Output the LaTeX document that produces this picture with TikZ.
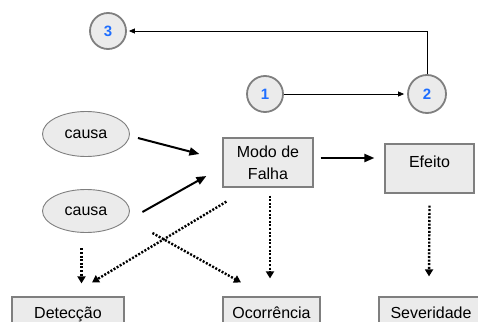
\documentclass[tikz,border=0pt]{standalone}
\usepackage{fontspec}
\setmainfont{Liberation Sans}
\usetikzlibrary{arrows.meta,shapes.geometric}
\definecolor{boxfill}{HTML}{EBEBEB}
\definecolor{edgegray}{HTML}{7F7F7F}
\definecolor{numblue}{HTML}{1E6EFF}
\tikzset{
  lbl/.style={font=\fontsize{16}{22}\selectfont},
  numcirc/.style={circle, fill=boxfill, draw=edgegray, line width=1.8pt,
    minimum size=36pt, inner sep=0pt,
    font=\fontsize{15}{18}\selectfont\bfseries, text=numblue},
  cause/.style={ellipse, fill=boxfill, draw=edgegray, line width=0.9pt,
    minimum width=87pt, minimum height=45pt, inner sep=0pt, lbl},
  stepbox/.style={rectangle, fill=boxfill, draw=edgegray, line width=1.2pt,
    align=center, lbl},
  metricbox/.style={stepbox, inner xsep=0pt, inner ysep=9pt,
    text height=12pt, text depth=4pt},
  thinarr/.style={line width=0.7pt, -{Triangle[length=6pt,width=5pt]}},
  boldarr/.style={line width=2pt, -{Triangle[length=10pt,width=8pt]}},
  dotarr/.style={line width=2.4pt, dash pattern=on 2pt off 1.6pt,
    -{Triangle[length=7pt,width=8pt]}},
}
\begin{document}
\begin{tikzpicture}[x=1pt,y=-1pt]
  \useasboundingbox (0,0) rectangle (478,321);
  \clip (0,0) rectangle (478,321);

  % numbered markers
  \node[numcirc] (n3) at (108,31) {3};
  \node[numcirc] (n1) at (265,94) {1};
  \node[numcirc, minimum size=38pt] (n2) at (427,94) {2};

  % causes
  \node[cause] (c1) at (86,134) {causa};
  \node[cause, minimum height=43pt] (c2) at (86,211) {causa};

  % failure mode and effect
  \node[stepbox, minimum width=90pt, minimum height=49pt] (modo) at (268,162.5) {Modo de\\Falha};
  \node[stepbox, minimum width=89pt, minimum height=49pt, text depth=13pt] (efeito) at (429.5,168.5) {Efeito};

  % rating boxes along the bottom
  \node[metricbox, minimum width=112pt] (det) at (68,314) {Detecção};
  \node[metricbox, minimum width=97pt] (oco) at (271.5,314) {Ocorrência};
  \node[metricbox, minimum width=104pt] (sev) at (431,314) {Severidade};

  % sequence of the numbered markers
  \draw[thinarr] (n1.east) -- ([xshift=-3pt]n2.west);
  \draw[thinarr] (n2.north) |- ([xshift=2pt]n3.east);

  % causes lead to the failure mode, which leads to the effect
  \draw[boldarr] ([shift={(8,4)}]c1.east) -- ([shift={(-23,-8.5)}]modo.west);
  \draw[boldarr] ([shift={(12.5,1)}]c2.east) -- ([shift={(-16,13.5)}]modo.west);
  \draw[boldarr] ([shift={(7,-4.5)}]modo.east) -- ([shift={(-10,-10.5)}]efeito.west);

  % ratings
  \draw[dotarr] ([shift={(-4.5,15.5)}]c2.south) -- ([shift={(13.5,-13)}]det.north);
  \draw[dotarr] ([shift={(4,14)}]modo.south west) -- ([shift={(24,-14)}]det.north);
  \draw[dotarr] ([shift={(22.5,22)}]c2.east) -- ([shift={(-30.5,-14)}]oco.north);
  \draw[dotarr] ([shift={(2,8)}]modo.south) -- ([shift={(-1.5,-18)}]oco.north);
  \draw[dotarr] ([shift={(0,12)}]efeito.south) -- ([shift={(-2,-20)}]sev.north);
\end{tikzpicture}
\end{document}
